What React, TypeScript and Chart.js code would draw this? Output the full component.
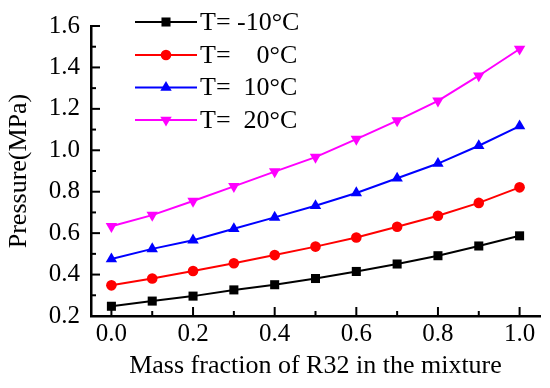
import React, { useEffect, useRef } from "react";
import { Chart, registerables } from "chart.js";

Chart.register(...registerables);

const massFraction = [0, 0.1, 0.2, 0.3, 0.4, 0.5, 0.6, 0.7, 0.8, 0.9, 1.0];
const tMinus10 = [0.247, 0.272, 0.296, 0.326, 0.351, 0.381, 0.415, 0.451, 0.491, 0.538, 0.587];
const t0 = [0.348, 0.381, 0.417, 0.455, 0.494, 0.535, 0.579, 0.631, 0.684, 0.746, 0.821];
const t10 = [0.475, 0.524, 0.566, 0.621, 0.676, 0.732, 0.794, 0.865, 0.936, 1.022, 1.117];
const t20 = [0.633, 0.687, 0.755, 0.826, 0.897, 0.967, 1.054, 1.143, 1.239, 1.36, 1.489];
const seriesLabels = ["T= -10°C", "T=    0°C", "T=  10°C", "T=  20°C"];
const xTickValues = [0, 0.1, 0.2, 0.3, 0.4, 0.5, 0.6, 0.7, 0.8, 0.9, 1.0];
const yTickValues = [0.2, 0.3, 0.4, 0.5, 0.6, 0.7, 0.8, 0.9, 1.0, 1.1, 1.2, 1.3, 1.4, 1.5, 1.6];

const FONT = "'Liberation Serif', 'Times New Roman', serif";

function drawMarker(ctx: CanvasRenderingContext2D, style: string, rotation: number, r: number, x: number, y: number, color: string) {
  ctx.save();
  ctx.fillStyle = color;
  ctx.beginPath();
  if (style === "rect") {
    const s = Math.SQRT1_2 * r;
    ctx.rect(x - s, y - s, 2 * s, 2 * s);
  } else if (style === "circle") {
    ctx.arc(x, y, r, 0, Math.PI * 2);
  } else {
    let rad = (rotation * Math.PI) / 180;
    ctx.moveTo(x + Math.sin(rad) * r, y - Math.cos(rad) * r);
    rad += (2 * Math.PI) / 3;
    ctx.lineTo(x + Math.sin(rad) * r, y - Math.cos(rad) * r);
    rad += (2 * Math.PI) / 3;
    ctx.lineTo(x + Math.sin(rad) * r, y - Math.cos(rad) * r);
    ctx.closePath();
  }
  ctx.fill();
  ctx.restore();
}

const innerTicksPlugin = {
  id: "innerTicks",
  afterDatasetsDraw(chart: any) {
    const ctx = chart.ctx as CanvasRenderingContext2D;
    const xs = chart.scales.x;
    const ys = chart.scales.y;
    ctx.save();
    ctx.strokeStyle = "#000";
    ctx.lineWidth = 2;
    const axisY = ys.getPixelForValue(0.2);
    const axisX = xs.getPixelForValue(-0.05);
    xTickValues.forEach((v, i) => {
      const px = xs.getPixelForValue(v);
      const len = i % 2 === 0 ? 9 : 5;
      ctx.beginPath();
      ctx.moveTo(px, axisY);
      ctx.lineTo(px, axisY - len);
      ctx.stroke();
    });
    yTickValues.forEach((v, i) => {
      const py = ys.getPixelForValue(v);
      const len = i % 2 === 0 ? 9 : 5;
      ctx.beginPath();
      ctx.moveTo(axisX, py);
      ctx.lineTo(axisX + len, py);
      ctx.stroke();
    });
    ctx.restore();
  },
};

const legendPlugin = {
  id: "customLegend",
  afterDraw(chart: any) {
    const ctx = chart.ctx as CanvasRenderingContext2D;
    const rows = [22, 55, 87.5, 120];
    ctx.save();
    chart.data.datasets.forEach((ds: any, i: number) => {
      const y = rows[i];
      ctx.strokeStyle = ds.borderColor;
      ctx.lineWidth = 2;
      ctx.beginPath();
      ctx.moveTo(135, y);
      ctx.lineTo(197, y);
      ctx.stroke();
      drawMarker(ctx, ds.pointStyle, ds.pointRotation || 0, ds.pointRadius, 166, y, ds.borderColor);
      ctx.fillStyle = "#000";
      ctx.font = `26px ${FONT}`;
      ctx.textAlign = "left";
      ctx.textBaseline = "middle";
      ctx.fillText(ds.label, 200, y + 1);
    });
    ctx.restore();
  },
};

export default function App() {
  const canvasRef = useRef<HTMLCanvasElement | null>(null);

  useEffect(() => {
    document.body.style.margin = "0";
    const canvas = canvasRef.current;
    if (!canvas) return;
    const mk = (label: string, data: number[], color: string, pointStyle: string, radius: number, rotation = 0) => ({
      label,
      data: massFraction.map((x, i) => ({ x, y: data[i] })),
      borderColor: color,
      backgroundColor: color,
      borderWidth: 2,
      pointStyle,
      pointRadius: radius,
      pointRotation: rotation,
      pointBorderWidth: 0,
      pointBackgroundColor: color,
      tension: 0,
    });
    const chart = new Chart(canvas, {
      type: "line",
      data: {
        datasets: [
          mk(seriesLabels[0], tMinus10, "#000000", "rect", 6.4),
          mk(seriesLabels[1], t0, "#ff0000", "circle", 5.3),
          mk(seriesLabels[2], t10, "#0000ff", "triangle", 6.6),
          mk(seriesLabels[3], t20, "#ff00ff", "triangle", 6.6, 180),
        ] as any,
      },
      options: {
        animation: false,
        responsive: true,
        maintainAspectRatio: false,
        layout: { padding: { top: 19, right: 10, left: 0, bottom: 0 } },
        plugins: { legend: { display: false }, tooltip: { enabled: false } },
        scales: {
          x: {
            type: "linear",
            min: -0.05,
            max: 1.05,
            afterBuildTicks: (scale: any) => {
              scale.ticks = [0, 0.2, 0.4, 0.6, 0.8, 1.0].map((v) => ({ value: v }));
            },
            afterFit: (scale: any) => {
              scale.height = 72;
            },
            grid: { display: false, drawTicks: false },
            border: { display: true, color: "#000", width: 2.5 },
            ticks: {
              color: "#000",
              font: { family: FONT, size: 25 },
              padding: 3,
              maxRotation: 0,
              callback: (v: any) => Number(v).toFixed(1),
            },
            title: {
              display: true,
              text: "Mass fraction of R32 in the mixture",
              color: "#000",
              font: { family: FONT, size: 26 },
              padding: { top: 0, bottom: 6 },
            },
          },
          y: {
            type: "linear",
            min: 0.2,
            max: 1.6,
            afterBuildTicks: (scale: any) => {
              scale.ticks = [0.2, 0.4, 0.6, 0.8, 1.0, 1.2, 1.4, 1.6].map((v) => ({ value: v }));
            },
            afterFit: (scale: any) => {
              scale.width = 91;
            },
            grid: { display: false, drawTicks: false },
            border: { display: true, color: "#000", width: 2.5 },
            ticks: {
              color: "#000",
              font: { family: FONT, size: 25 },
              padding: 11,
              callback: (v: any) => Number(v).toFixed(1),
            },
            title: {
              display: true,
              text: "Pressure(MPa)",
              color: "#000",
              font: { family: FONT, size: 26 },
              padding: { top: 4, bottom: 0 },
            },
          },
        },
      },
      plugins: [innerTicksPlugin, legendPlugin],
    });
    return () => chart.destroy();
  }, []);

  return (
    <div style={{ position: "relative", width: 550, height: 388 }}>
      <canvas ref={canvasRef} />
    </div>
  );
}
